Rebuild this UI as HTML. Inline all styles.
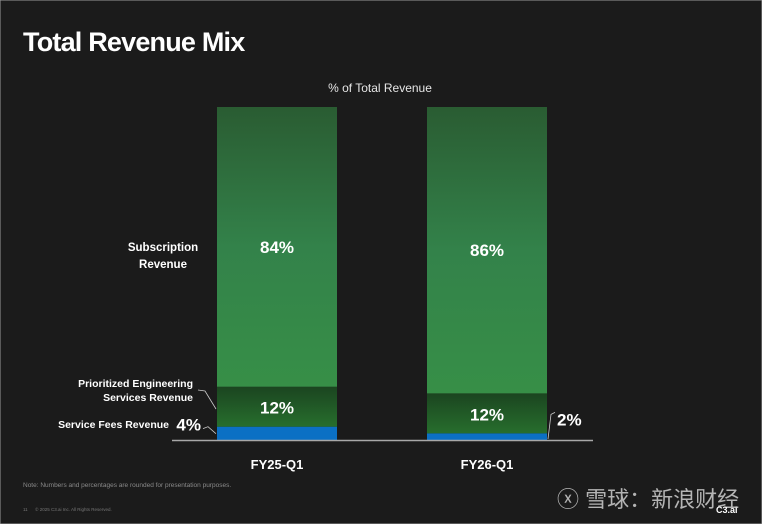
<!DOCTYPE html>
<html><head><meta charset="utf-8"><style>
html,body{margin:0;padding:0;background:#1b1b1b;}
svg{display:block;font-family:"Liberation Sans","Noto Sans CJK SC",sans-serif;}
</style></head><body>
<svg id="c" width="762" height="524" viewBox="0 0 762 524">
<defs>
<linearGradient id="gSub" x1="0" y1="0" x2="0" y2="1"><stop offset="0" stop-color="#2a5c32"/><stop offset="0.5" stop-color="#33824a"/><stop offset="1" stop-color="#378f47"/></linearGradient>
<linearGradient id="gPes" x1="0" y1="0" x2="0" y2="1"><stop offset="0" stop-color="#1b4520"/><stop offset="1" stop-color="#276e2d"/></linearGradient>
</defs>
<rect x="0" y="0" width="762" height="524" fill="#1b1b1b" stroke="#9a9a9a" stroke-width="1"/>
<text x="23" y="51" font-size="27" font-weight="bold" fill="#fff" letter-spacing="-0.8">Total Revenue Mix</text>
<text x="380" y="92" font-size="12" fill="#e6e6e6" text-anchor="middle">% of Total Revenue</text>
<g id="bars"></g>
<line x1="172" y1="440.5" x2="593" y2="440.5" stroke="#a8a8a8" stroke-width="1.5"/>
<text x="163" y="251" font-size="11.5" font-weight="bold" fill="#fff" text-anchor="middle"><tspan x="163">Subscription</tspan><tspan x="163" dy="17">Revenue</tspan></text>
<text x="193" y="387" font-size="10.5" font-weight="bold" fill="#fff" text-anchor="end"><tspan x="193">Prioritized Engineering</tspan><tspan x="193" dy="14">Services Revenue</tspan></text>
<polyline points="198,390 205,391 216,409" fill="none" stroke="#ccc" stroke-width="0.8"/>
<text x="169" y="428" font-size="10.5" font-weight="bold" fill="#fff" text-anchor="end">Service Fees Revenue</text>
<text x="23" y="487" font-size="6.5" fill="#8a8a8a">Note: Numbers and percentages are rounded for presentation purposes.</text>
<text x="23" y="511" font-size="4.5" fill="#777">11 &#160;&#160;&#160;&#160; © 2025 C3.ai Inc. All Rights Reserved.</text>
<text x="557" y="507" font-size="22" fill="#cfcfcf" opacity="0.85">ⓧ 雪球：新浪财经</text>
<text x="716" y="513" font-size="9" font-weight="bold" fill="#fff">C3.ai</text>
</svg>
<script>
const categories = ["FY25-Q1", "FY26-Q1"];
const serviceFees = [4, 2];
const pes = [12, 12];
const subscription = [84, 86];

const NS = "http://www.w3.org/2000/svg";
const g = document.getElementById("bars");
const baseY = 440, plotH = 333;
const barW = 120;
function xPos(i){ return 217 + i * 210; }
function yScale(v){ return plotH * v / 100; }
function mk(tag, attrs){ const e = document.createElementNS(NS, tag); for (const k in attrs) e.setAttribute(k, attrs[k]); g.appendChild(e); return e; }

categories.forEach((cat, i) => {
  const x = xPos(i);
  let y = baseY;
  const hs = yScale(serviceFees[i]);
  const r1 = mk("rect", {x: x, y: y - hs, width: barW, height: hs, fill: "#0b70c4"});
  
  
  y -= hs;
  const hp = yScale(pes[i]);
  const r2 = mk("rect", {x: x, y: y - hp, width: barW, height: hp, fill: "url(#gPes)"});
  
  
  const t2 = mk("text", {x: x + barW/2, y: y - hp/2 + 7, "font-size": 17, "font-weight": "bold", fill: "#fff", "text-anchor": "middle"});
  t2.textContent = pes[i] + "%";
  
  
  y -= hp;
  const hsub = yScale(subscription[i]);
  const r3 = mk("rect", {x: x, y: y - hsub, width: barW, height: hsub, fill: "url(#gSub)"});
  
  
  const t3 = mk("text", {x: x + barW/2, y: y - hsub/2 + 6, "font-size": 17, "font-weight": "bold", fill: "#fff", "text-anchor": "middle"});
  t3.textContent = subscription[i] + "%";
  
  
  const tl = mk("text", {x: x + barW/2, y: 469, "font-size": 13, "font-weight": "bold", fill: "#fff", "text-anchor": "middle"});
  tl.textContent = cat;
  
  
  const sfTop = baseY - hs;
  let tv, ln;
  if (i === 0) {
    tv = mk("text", {x: x - 16, y: sfTop + 4, "font-size": 17, "font-weight": "bold", fill: "#fff", "text-anchor": "end"});
    ln = mk("polyline", {points: (x-14)+","+(sfTop+2)+" "+(x-9)+","+(sfTop)+" "+(x-1)+","+(sfTop+7), fill: "none", stroke: "#ccc", "stroke-width": 0.8});
  } else {
    tv = mk("text", {x: x + barW + 10, y: sfTop - 8, "font-size": 17, "font-weight": "bold", fill: "#fff"});
    ln = mk("polyline", {points: (x+barW+1)+","+(baseY-1)+" "+(x+barW+4)+","+(sfTop-19)+" "+(x+barW+8)+","+(sfTop-21), fill: "none", stroke: "#ccc", "stroke-width": 0.8});
  }
  tv.textContent = serviceFees[i] + "%";
  
  
  
  
});
</script>
</body></html>
